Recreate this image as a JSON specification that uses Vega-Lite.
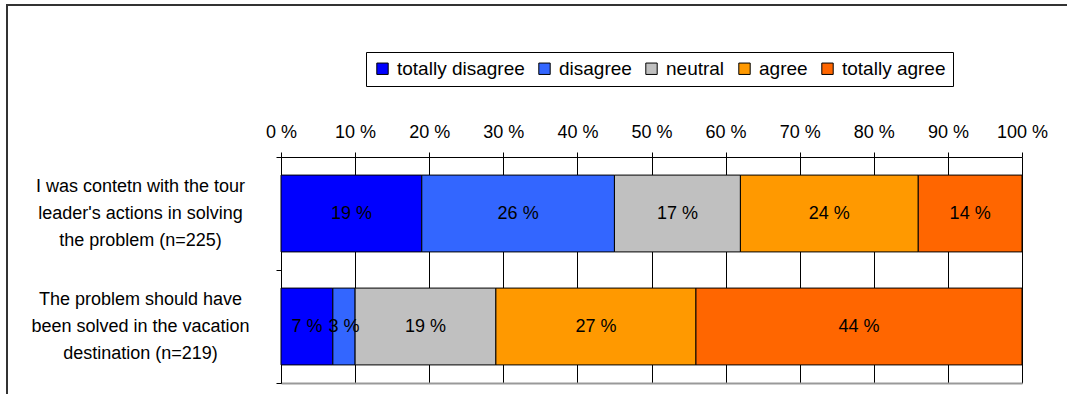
{
  "$schema": "https://vega.github.io/schema/vega-lite/v6.json",
  "width": 1062,
  "height": 391,
  "autosize": {"type": "none"},
  "padding": {"left": 7, "top": 5, "right": -2, "bottom": -2},
  "background": "white",
  "config": {
    "view": {"stroke": "#333333", "strokeWidth": 2},
    "font": "Liberation Sans"
  },
  "data": {
    "values": [
      {"question": "I was contetn with the tour|leader's actions in solving|the problem (n=225)", "answer": "totally disagree", "rank": 1, "value": 19},
      {"question": "I was contetn with the tour|leader's actions in solving|the problem (n=225)", "answer": "disagree", "rank": 2, "value": 26},
      {"question": "I was contetn with the tour|leader's actions in solving|the problem (n=225)", "answer": "neutral", "rank": 3, "value": 17},
      {"question": "I was contetn with the tour|leader's actions in solving|the problem (n=225)", "answer": "agree", "rank": 4, "value": 24},
      {"question": "I was contetn with the tour|leader's actions in solving|the problem (n=225)", "answer": "totally agree", "rank": 5, "value": 14},
      {"question": "The problem should have|been solved in the vacation|destination (n=219)", "answer": "totally disagree", "rank": 1, "value": 7},
      {"question": "The problem should have|been solved in the vacation|destination (n=219)", "answer": "disagree", "rank": 2, "value": 3},
      {"question": "The problem should have|been solved in the vacation|destination (n=219)", "answer": "neutral", "rank": 3, "value": 19},
      {"question": "The problem should have|been solved in the vacation|destination (n=219)", "answer": "agree", "rank": 4, "value": 27},
      {"question": "The problem should have|been solved in the vacation|destination (n=219)", "answer": "totally agree", "rank": 5, "value": 44}
    ]
  },
  "encoding": {
    "y": {
      "field": "question",
      "type": "nominal",
      "sort": null,
      "scale": {"range": [152, 378], "paddingInner": 0, "paddingOuter": 0},
      "axis": {
        "title": null,
        "orient": "left",
        "offset": -274,
        "domainColor": "black",
        "domainWidth": 1,
        "tickColor": "black",
        "tickSize": 5,
        "tickBand": "extent",
        "grid": false,
        "labelExpr": "isValid(datum.value) ? split(datum.value, '|') : ''",
        "labelAlign": "center",
        "labelBaseline": "middle",
        "labelPadding": 136,
        "labelOffset": -27,
        "labelLimit": 0,
        "labelLineHeight": 27,
        "labelFontSize": 18,
        "labelColor": "black"
      }
    },
    "order": {"field": "rank", "type": "quantitative"}
  },
  "layer": [
    {
      "mark": {"type": "bar", "height": {"band": 0.68}, "stroke": "black", "strokeWidth": 1},
      "encoding": {
        "x": {
          "field": "value",
          "type": "quantitative",
          "stack": "zero",
          "scale": {"domain": [0, 100], "range": [274, 1015], "nice": false},
          "axis": {
            "title": null,
            "orient": "top",
            "offset": -152,
            "values": [0, 10, 20, 30, 40, 50, 60, 70, 80, 90, 100],
            "labelExpr": "datum.value + ' %'",
            "labelFontSize": 18,
            "labelColor": "black",
            "labelPadding": 11,
            "labelFlush": false,
            "labelOverlap": false,
            "domainColor": "black",
            "domainWidth": 1,
            "tickColor": "black",
            "tickSize": 5,
            "grid": true,
            "gridColor": "black",
            "gridWidth": 1,
            "gridOpacity": 1
          }
        },
        "color": {
          "field": "answer",
          "type": "nominal",
          "scale": {
            "domain": ["totally disagree", "disagree", "neutral", "agree", "totally agree"],
            "range": ["#0000FF", "#3366FF", "#C0C0C0", "#FF9900", "#FF6600"]
          },
          "legend": {
            "title": null,
            "orient": "none",
            "legendX": 359,
            "legendY": 47,
            "direction": "horizontal",
            "strokeColor": "black",
            "fillColor": "white",
            "padding": 7,
            "symbolType": "square",
            "symbolSize": 130,
            "symbolStrokeColor": "black",
            "symbolStrokeWidth": 1,
            "symbolOpacity": 1,
            "labelFontSize": 19,
            "labelColor": "black",
            "labelOffset": 5,
            "columnPadding": 10
          }
        }
      }
    },
    {
      "mark": {"type": "text", "fontSize": 18, "color": "black"},
      "encoding": {
        "x": {
          "field": "value",
          "type": "quantitative",
          "stack": "zero",
          "bandPosition": 0.5,
          "axis": {
            "title": null,
            "orient": "bottom",
            "offset": -13,
            "labels": false,
            "ticks": false,
            "grid": false,
            "domainColor": "#999999",
            "domainWidth": 2
          }
        },
        "text": {"value": {"expr": "datum.value + ' %'"}}
      }
    }
  ],
  "resolve": {"axis": {"x": "independent"}}
}
